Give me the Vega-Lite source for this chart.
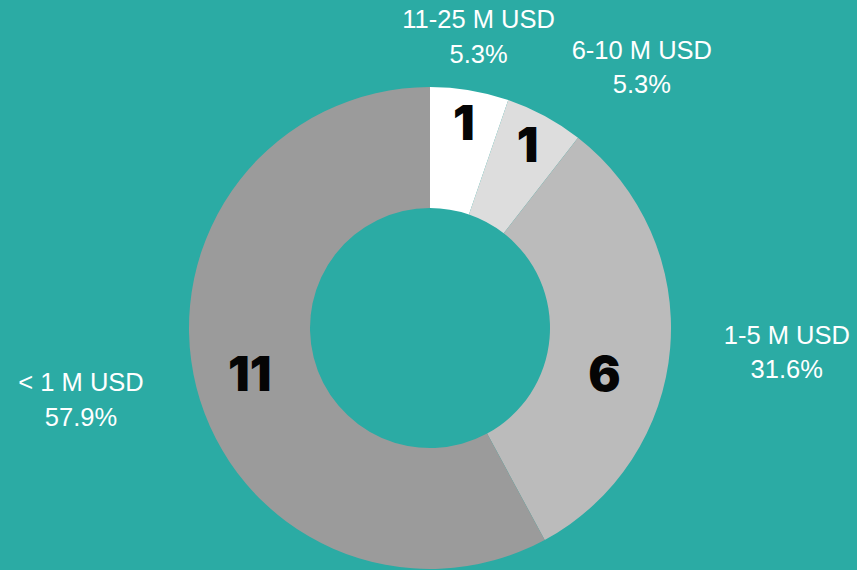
{
  "$schema": "https://vega.github.io/schema/vega-lite/v6.json",
  "width": 482,
  "height": 482,
  "autosize": {"type": "none"},
  "padding": {"left": 189, "top": 87, "right": 186, "bottom": 1},
  "background": "#2BABA4",
  "config": {"view": {"stroke": null}},
  "data": {
    "values": [
      {"category": "11-25 M USD", "count": 1, "label": "11-25 M USD\n5.3%"},
      {"category": "6-10 M USD", "count": 1, "label": "6-10 M USD\n5.3%"},
      {"category": "1-5 M USD", "count": 6, "label": "1-5 M USD\n31.6%"},
      {"category": "< 1 M USD", "count": 11, "label": "< 1 M USD\n57.9%"}
    ]
  },
  "encoding": {
    "theta": {"field": "count", "type": "quantitative", "stack": true},
    "order": {"field": "count", "type": "quantitative", "sort": "ascending"}
  },
  "layer": [
    {
      "mark": {"type": "arc", "radius": 241, "radius2": 120, "stroke": null},
      "encoding": {
        "color": {
          "field": "category",
          "type": "nominal",
          "sort": ["11-25 M USD", "6-10 M USD", "1-5 M USD", "< 1 M USD"],
          "scale": {
            "domain": ["11-25 M USD", "6-10 M USD", "1-5 M USD", "< 1 M USD"],
            "range": ["#FFFFFF", "#DDDDDD", "#BBBBBB", "#9B9B9B"]
          },
          "legend": null
        }
      }
    },
    {
      "mark": {"type": "text", "radius": 295, "dy": -17, "font": "Liberation Sans", "fontSize": 25.5, "color": "#FFFFFF", "lineBreak": "\n", "lineHeight": 34.5, "align": "center", "baseline": "middle"},
      "encoding": {
        "text": {"condition": {"test": "datum.category === '11-25 M USD'", "field": "label", "type": "nominal"}, "value": ""}
      }
    },
    {
      "mark": {"type": "text", "radius": 298, "dx": 70, "dy": -15, "font": "Liberation Sans", "fontSize": 25.5, "color": "#FFFFFF", "lineBreak": "\n", "lineHeight": 34.5, "align": "center", "baseline": "middle"},
      "encoding": {
        "text": {"condition": {"test": "datum.category === '6-10 M USD'", "field": "label", "type": "nominal"}, "value": ""}
      }
    },
    {
      "mark": {"type": "text", "radius": 358, "dy": -22, "font": "Liberation Sans", "fontSize": 25.5, "color": "#FFFFFF", "lineBreak": "\n", "lineHeight": 34.5, "align": "center", "baseline": "middle"},
      "encoding": {
        "text": {"condition": {"test": "datum.category === '1-5 M USD'", "field": "label", "type": "nominal"}, "value": ""}
      }
    },
    {
      "mark": {"type": "text", "radius": 360, "dy": -33, "font": "Liberation Sans", "fontSize": 25.5, "color": "#FFFFFF", "lineBreak": "\n", "lineHeight": 34.5, "align": "center", "baseline": "middle"},
      "encoding": {
        "text": {"condition": {"test": "datum.category === '< 1 M USD'", "field": "label", "type": "nominal"}, "value": ""}
      }
    },
    {
      "mark": {"type": "text", "radius": 205, "font": "Inter", "fontWeight": 900, "fontSize": 48, "color": "#050505", "align": "center", "baseline": "middle"},
      "encoding": {
        "text": {"condition": {"test": "datum.count === 1", "field": "count", "type": "nominal"}, "value": ""}
      }
    },
    {
      "mark": {"type": "text", "radius": 186, "dy": 3, "font": "Inter", "fontWeight": 900, "fontSize": 48, "color": "#050505", "align": "center", "baseline": "middle"},
      "encoding": {
        "text": {"condition": {"test": "datum.count === 11", "field": "count", "type": "nominal"}, "value": ""}
      }
    },
    {
      "mark": {"type": "text", "radius": 185, "dx": -10, "dy": 34, "font": "Inter", "fontWeight": 900, "fontSize": 48, "color": "#050505", "align": "center", "baseline": "middle"},
      "encoding": {
        "text": {"condition": {"test": "datum.count === 6", "field": "count", "type": "nominal"}, "value": ""}
      }
    }
  ]
}
